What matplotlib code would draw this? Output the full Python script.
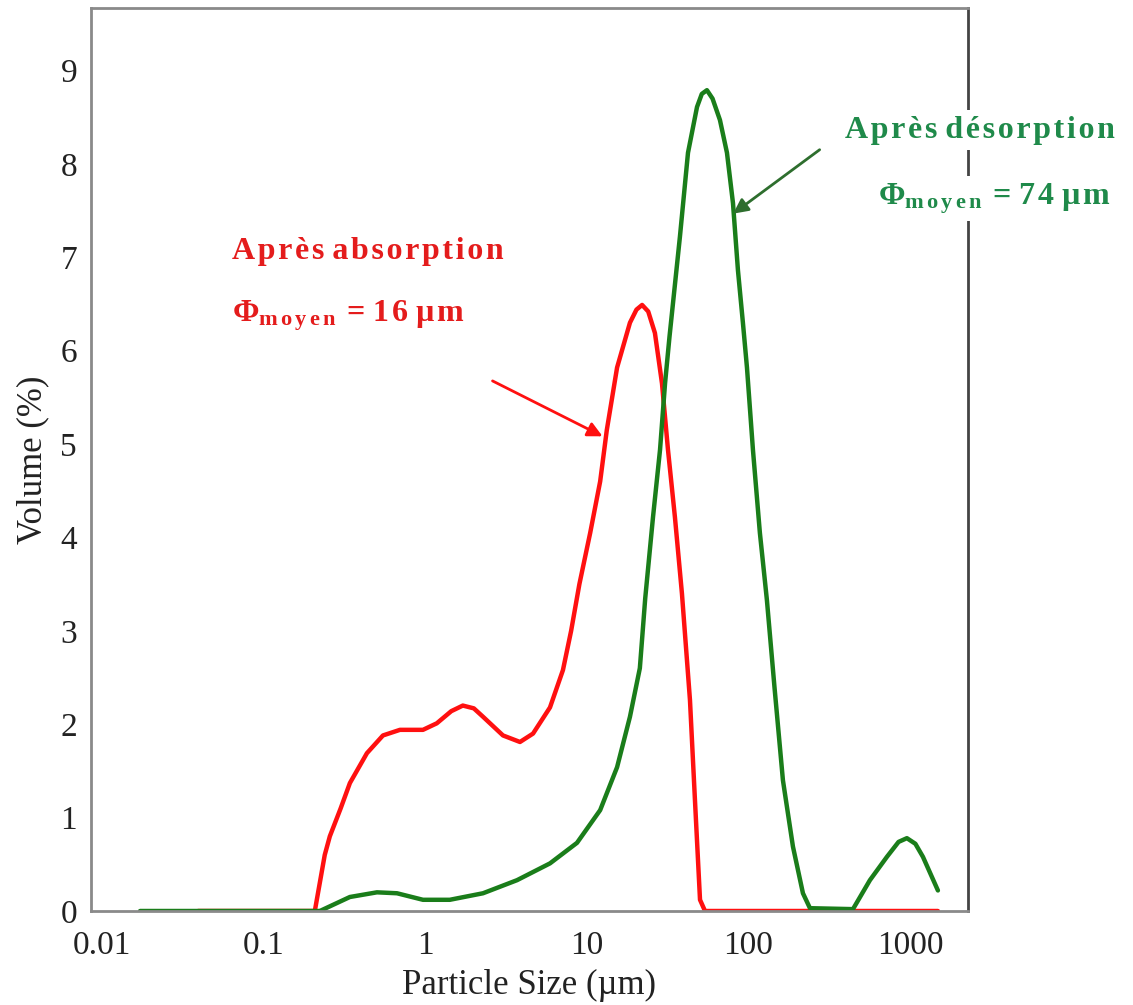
import numpy as np
import matplotlib
matplotlib.use('Agg')
import matplotlib.pyplot as plt

plt.rcParams['font.family'] = ['Liberation Serif', 'DejaVu Serif']
plt.rcParams['mathtext.fontset'] = 'custom'
plt.rcParams['mathtext.rm'] = 'Liberation Serif:bold'
plt.rcParams['mathtext.it'] = 'Liberation Serif:bold'
plt.rcParams['mathtext.bf'] = 'Liberation Serif:bold'

# particle size distribution
# after absorption (red)
size_abs = [0.0393, 0.2075, 0.239, 0.257, 0.30, 0.342, 0.436, 0.548, 0.698,
            0.969, 1.18, 1.45, 1.71, 2.0, 2.28, 3.03, 3.86, 4.65, 5.92, 7.12,
            8.0, 9.0, 10.5, 12.1, 13.3, 15.4, 18.5, 20.3, 22.0, 24.0, 26.4,
            29.2, 31.8, 35.1, 38.8, 43.5, 46.7, 50.2, 53.9, 1489]
vol_abs = [0, 0, 0.6, 0.8, 1.1, 1.37, 1.69, 1.88, 1.94,
           1.94, 2.01, 2.14, 2.2, 2.17, 2.08, 1.88, 1.81, 1.9, 2.18, 2.58,
           3.0, 3.5, 4.05, 4.6, 5.15, 5.82, 6.3, 6.44, 6.49, 6.42, 6.19,
           5.65, 4.94, 4.22, 3.4, 2.26, 1.19, 0.12, 0, 0]

# after desorption (green)
size_des = [0.0172, 0.217, 0.223, 0.28, 0.342, 0.503, 0.669, 0.969, 1.42,
            2.28, 3.70, 5.92, 8.70, 12.1, 15.4, 18.5, 21.3, 23.0, 25.7, 28.4,
            30.5, 32.5, 37.7, 42.3, 48.1, 51.5, 55.4, 60.0, 66.7, 73.7, 80.3,
            86.2, 92.5, 98.0, 106.7, 117.8, 130.2, 145.0, 163.6, 188.7, 217.6,
            240.5, 443.9, 565, 720, 850, 957, 1080, 1203, 1489]
vol_des = [0, 0, 0, 0.08, 0.15, 0.2, 0.19, 0.12, 0.12,
           0.19, 0.33, 0.51, 0.73, 1.08, 1.54, 2.08, 2.6, 3.35, 4.22, 4.94,
           5.65, 6.15, 7.22, 8.12, 8.61, 8.75, 8.79, 8.7, 8.47, 8.12, 7.58,
           6.86, 6.3, 5.82, 4.94, 4.05, 3.33, 2.4, 1.4, 0.69, 0.19,
           0.03, 0.02, 0.33, 0.58, 0.74, 0.78, 0.72, 0.58, 0.22]

x_ticks = [0.01, 0.1, 1, 10, 100, 1000]
x_labels = ['0.01', '0.1', '1', '10', '100', '1000']
y_ticks = list(range(10))

red = '#ff1010'
green = '#1a7d1a'
red_txt = '#e41c1c'
green_txt = '#1f8a4a'

fig = plt.figure(figsize=(11.33, 10.05), dpi=100)
ax = fig.add_axes([91/1133, 94/1005, 877/1133, 903/1005])

ax.plot(size_abs, vol_abs, color=red, linewidth=3.2, solid_capstyle='round',
        solid_joinstyle='round')
ax.plot(size_des, vol_des, color=green, linewidth=3.2, solid_capstyle='round',
        solid_joinstyle='round')

ax.set_xscale('log')
ax.set_xlim(0.00855, 2286)
ax.set_ylim(0, 9.67)
ax.set_xticks(x_ticks)
ax.set_xticklabels(x_labels)
ax.minorticks_off()
ax.set_yticks(y_ticks)
ax.tick_params(length=0, labelsize=24, colors='#222222')
ax.tick_params(axis='x', pad=14)
ax.tick_params(axis='y', pad=10)

for side in ['left', 'bottom', 'top']:
    ax.spines[side].set_color('#8a8a8a')
    ax.spines[side].set_linewidth(2)
ax.spines['right'].set_color('#444444')
ax.spines['right'].set_linewidth(2)

ax.set_xlabel('Particle Size (\u00b5m)', fontsize=25, color='#222222', labelpad=6)
ax.set_ylabel('Volume (%)', fontsize=25, color='#222222', labelpad=8)

sp = '\u200a'
def spaced(s):
    return ' '.join(sp.join(w) for w in s.split(' '))

phi = r'$\Phi_{\mathrm{m\,o\,y\,e\,n}}$'
box = dict(facecolor='white', edgecolor='none', pad=4)

# red annotation
ax.text(0.0637, 7.06, spaced('Après absorption'), color=red_txt, fontsize=23,
        fontweight='bold', va='center', ha='left', zorder=6)
ax.text(0.0637, 6.38, phi + sp + ' = ' + spaced('16 µm'), color=red_txt,
        fontsize=23, fontweight='bold', va='center', ha='left', zorder=6)
ax.annotate('', xy=(12.97, 5.07), xytext=(2.52, 5.69),
            arrowprops=dict(arrowstyle='-|>', color=red, lw=2, mutation_scale=22))

# green annotation
ax.text(395, 8.36, spaced('Après désorption'), color=green_txt, fontsize=23,
        fontweight='bold', va='center', ha='left', zorder=6, clip_on=False, bbox=box)
ax.text(632, 7.63, phi + sp + ' = ' + spaced('74 µm'), color=green_txt,
        fontsize=23, fontweight='bold', va='center', ha='left', zorder=6,
        clip_on=False, bbox=box)
ax.annotate('', xy=(78.0, 7.45), xytext=(285, 8.17),
            arrowprops=dict(arrowstyle='-|>', color='#2e6e2e', lw=2, mutation_scale=22))

fig.savefig('out.png', dpi=100, facecolor='white')
